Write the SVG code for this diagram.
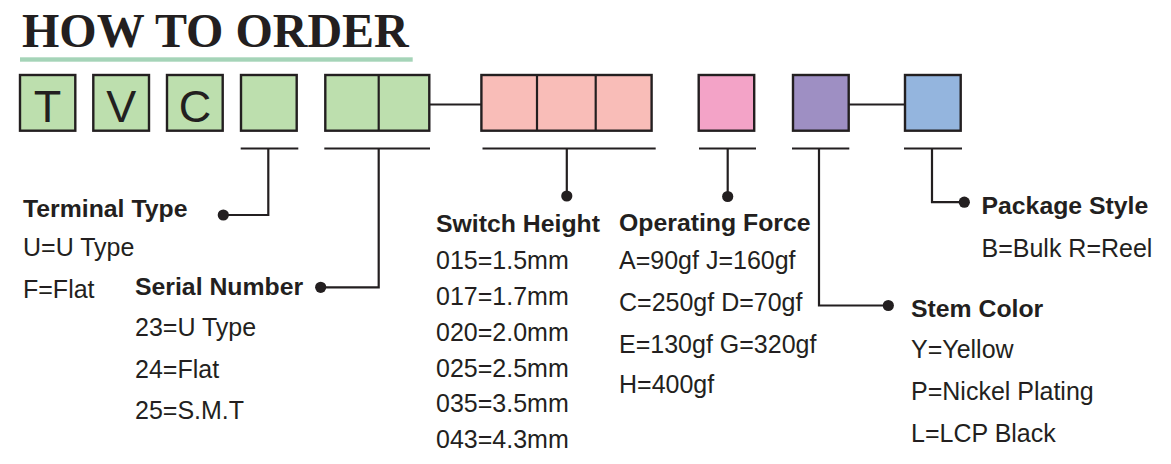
<svg xmlns="http://www.w3.org/2000/svg" width="1171" height="464" viewBox="0 0 1171 464">
<style>
.box{stroke:#231f20;stroke-width:2.4}
.g{fill:#bddfae}
.ln{fill:none;stroke:#231f20;stroke-width:2.2}
.dot{fill:#231f20}
.h{font-family:"Liberation Sans",Arial,sans-serif;font-weight:bold;font-size:24.8px;fill:#231f20}
.t{font-family:"Liberation Sans",Arial,sans-serif;font-size:25px;fill:#231f20}
.bx{font-family:"Liberation Sans",Arial,sans-serif;font-size:45px;fill:#231f20;text-anchor:middle}
</style>
<rect width="1171" height="464" fill="#ffffff"/>
<g id="title">
<text x="22" y="47.3" font-family="'Liberation Serif','Times New Roman',serif" font-weight="bold" font-size="48" fill="#231f20">HOW TO ORDER</text>
<rect x="20" y="57.3" width="392.7" height="4.4" fill="#a5d4b8"/>
</g>
<g id="box-T"><rect class="box g" x="20" y="75" width="55.3" height="55.7"/><text class="bx" x="47.6" y="121.7">T</text></g>
<g id="box-V"><rect class="box g" x="93.3" y="75" width="55.7" height="55.7"/><text class="bx" x="121.2" y="121.7">V</text></g>
<g id="box-C"><rect class="box g" x="167" y="75" width="55.7" height="55.7"/><text class="bx" x="195" y="121.7">C</text></g>
<g id="box-terminal"><rect class="box g" x="241" y="75" width="55.7" height="55.7"/></g>
<g id="box-serial"><rect class="box g" x="325.3" y="75" width="104" height="55.7"/><line class="ln" x1="378.7" y1="75" x2="378.7" y2="130.7"/></g>
<g id="box-height"><rect class="box" fill="#f9bdb8" x="481.4" y="75" width="170.2" height="55.7"/><line class="ln" x1="537" y1="75" x2="537" y2="130.7"/><line class="ln" x1="595.7" y1="75" x2="595.7" y2="130.7"/></g>
<g id="box-force"><rect class="box" fill="#f3a3c7" x="698.7" y="75" width="55.5" height="55.7"/></g>
<g id="box-stem"><rect class="box" fill="#9e8fc3" x="793" y="75" width="55.7" height="55.7"/></g>
<g id="box-package"><rect class="box" fill="#94b5de" x="905" y="75" width="55.7" height="55.7"/></g>
<g id="connectors">
<line class="ln" x1="429.3" y1="104.5" x2="481.4" y2="104.5"/>
<line class="ln" x1="848.7" y1="104.5" x2="905" y2="104.5"/>
<line class="ln" x1="240.7" y1="148.5" x2="298.3" y2="148.5"/>
<line class="ln" x1="324.3" y1="148.5" x2="430" y2="148.5"/>
<line class="ln" x1="482.5" y1="148.5" x2="655.7" y2="148.5"/>
<line class="ln" x1="699" y1="148.5" x2="756" y2="148.5"/>
<line class="ln" x1="792" y1="148.5" x2="849.3" y2="148.5"/>
<line class="ln" x1="904" y1="148.5" x2="962" y2="148.5"/>
<path class="ln" d="M268.3 148.5V215H223.3"/>
<path class="ln" d="M378.7 148.5V287.3H320.7"/>
<path class="ln" d="M566.8 148.5V196"/>
<path class="ln" d="M727.7 148.5V196.5"/>
<path class="ln" d="M819 148.5V305.5H888.3"/>
<path class="ln" d="M932 148.5V202.2H964.3"/>
<circle class="dot" cx="223.3" cy="215" r="5.6"/>
<circle class="dot" cx="320.7" cy="287.3" r="5.6"/>
<circle class="dot" cx="566.8" cy="196" r="5.6"/>
<circle class="dot" cx="727.7" cy="196.5" r="5.6"/>
<circle class="dot" cx="888.3" cy="305.5" r="5.6"/>
<circle class="dot" cx="964.3" cy="202.2" r="5.6"/>
</g>
<g id="terminal-type">
<text class="h" x="23" y="216.5">Terminal Type</text>
<text class="t" x="23" y="256">U=U Type</text>
<text class="t" x="23" y="298">F=Flat</text>
</g>
<g id="serial-number">
<text class="h" x="135" y="295">Serial Number</text>
<text class="t" x="135" y="335.7">23=U Type</text>
<text class="t" x="135" y="377.7">24=Flat</text>
<text class="t" x="135" y="419.3">25=S.M.T</text>
</g>
<g id="switch-height">
<text class="h" x="436" y="231.5">Switch Height</text>
<text class="t" x="436" y="269">015=1.5mm</text>
<text class="t" x="436" y="305">017=1.7mm</text>
<text class="t" x="436" y="341">020=2.0mm</text>
<text class="t" x="436" y="376.7">025=2.5mm</text>
<text class="t" x="436" y="412">035=3.5mm</text>
<text class="t" x="436" y="448">043=4.3mm</text>
</g>
<g id="operating-force">
<text class="h" x="619" y="231">Operating Force</text>
<text class="t" x="619" y="269">A=90gf J=160gf</text>
<text class="t" x="619" y="310.5">C=250gf D=70gf</text>
<text class="t" x="619" y="352.5">E=130gf G=320gf</text>
<text class="t" x="619" y="393">H=400gf</text>
</g>
<g id="package-style">
<text class="h" x="981.5" y="214.3">Package Style</text>
<text class="t" x="981.5" y="256.5">B=Bulk R=Reel</text>
</g>
<g id="stem-color">
<text class="h" x="911" y="316.5">Stem Color</text>
<text class="t" x="911" y="358.3">Y=Yellow</text>
<text class="t" x="911" y="400">P=Nickel Plating</text>
<text class="t" x="911" y="441.7">L=LCP Black</text>
</g>
</svg>
